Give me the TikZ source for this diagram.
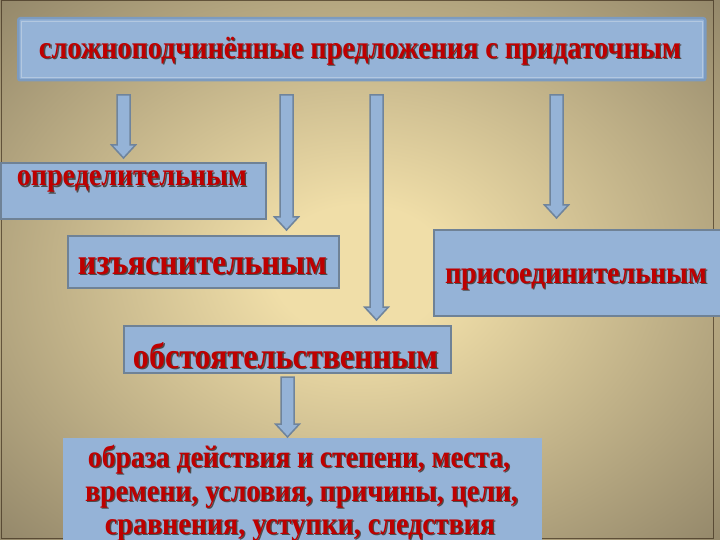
\documentclass[tikz,border=0pt]{standalone}
\usepackage{fontspec}
\setmainfont{Liberation Serif}
\usepackage{graphicx}
\definecolor{bgin}{HTML}{F0DEA8}
\definecolor{bgout}{HTML}{928669}
\definecolor{boxfill}{HTML}{95B3D7}
\definecolor{boxline}{HTML}{6F8296}
\definecolor{topline}{HTML}{7C9BC0}
\definecolor{topinner}{HTML}{B3C8E0}
\definecolor{arrline}{HTML}{6F849C}
\definecolor{txtred}{HTML}{BE0000}
\pgfdeclareradialshading{bgshade}{\pgfpoint{0bp}{0bp}}{color(0bp)=(bgin); color(6bp)=(bgin); color(36bp)=(bgout); color(50bp)=(bgout)}
\newcommand\shtext[1]{\leavevmode\rlap{\kern1.4pt\raisebox{-1.4pt}{\color{black!70}#1}}{\color{txtred}#1}}
\newcommand\fitw[2]{\scalebox{1}[1.13]{\resizebox{#1pt}{!}{\shtext{#2}}}}
\newcommand\barrow[4]{%
  \coordinate (#1s) at (#2,#3); \coordinate (#1e) at (#2,#4);
  \draw[arr] (#2-6.5,#3) -- (#2+6.5,#3) -- (#2+6.5,#4-13) -- (#2+12,#4-13) -- (#1e) -- (#2-12,#4-13) -- (#2-6.5,#4-13) -- cycle;}
\begin{document}
\begin{tikzpicture}[x=1pt,y=-1pt,
  box/.style={rectangle, fill=boxfill, draw=boxline, line width=1.8pt, inner sep=0pt, anchor=north west},
  txt/.style={inner sep=0pt, anchor=base, font=\bfseries\fontsize{30}{36}\selectfont},
  arr/.style={fill=boxfill, draw=arrline, line width=1.5pt, line join=miter}]
\useasboundingbox (0,0) rectangle (720,540);
\shade[shading=bgshade] (0,0) rectangle (720,540);
\draw[color=black!75!brown, line width=1pt, opacity=.6] (1,1) rectangle (713,538);
% boxes
\node[box, draw=topline, line width=2.5pt, rounded corners=2pt, minimum width=687pt, minimum height=62pt] (top) at (17,17) {};
\draw[topinner, line width=.8pt] ([xshift=4pt,yshift=-4pt]top.north west) rectangle ([xshift=-4pt,yshift=4pt]top.south east);
\node[box, minimum width=265pt, minimum height=56pt] (opr) at (0,162) {};
\node[box, minimum width=271pt, minimum height=52pt] (izj) at (67,235) {};
\node[box, minimum width=290pt, minimum height=86pt] (pris) at (433,229) {};
\node[box, minimum width=327pt, minimum height=47pt] (obst) at (123,325) {};
\node[box, draw=boxfill, minimum width=477pt, minimum height=110pt] (obr) at (63,438) {};
% texts
\node[txt] (ttop) at (360,58.5) {\fitw{642}{сложноподчинённые предложения с придаточным}};
\node[txt] (topr) at (132,186) {\fitw{230}{определительным}};
\node[txt] (tizj) at (202.5,274) {\fitw{249}{изъяснительным}};
\node[txt] (tpris) at (576,283) {\fitw{262}{присоединительным}};
\node[txt] (tobst) at (285.5,368) {\fitw{305}{обстоятельственным}};
\node[txt] (tobr1) at (299,467) {\fitw{422}{образа действия и степени, места,}};
\node[txt] (tobr2) at (301.5,501) {\fitw{433}{времени, условия, причины, цели,}};
\node[txt] (tobr3) at (300,534) {\fitw{390}{сравнения, уступки, следствия}};
% arrows
\barrow{a1}{123.5}{95}{158}
\barrow{a2}{286.5}{95}{230}
\barrow{a3}{376.5}{95}{320}
\barrow{a4}{556.5}{95}{218}
\barrow{a5}{287.5}{377}{437}
\end{tikzpicture}
\end{document}
